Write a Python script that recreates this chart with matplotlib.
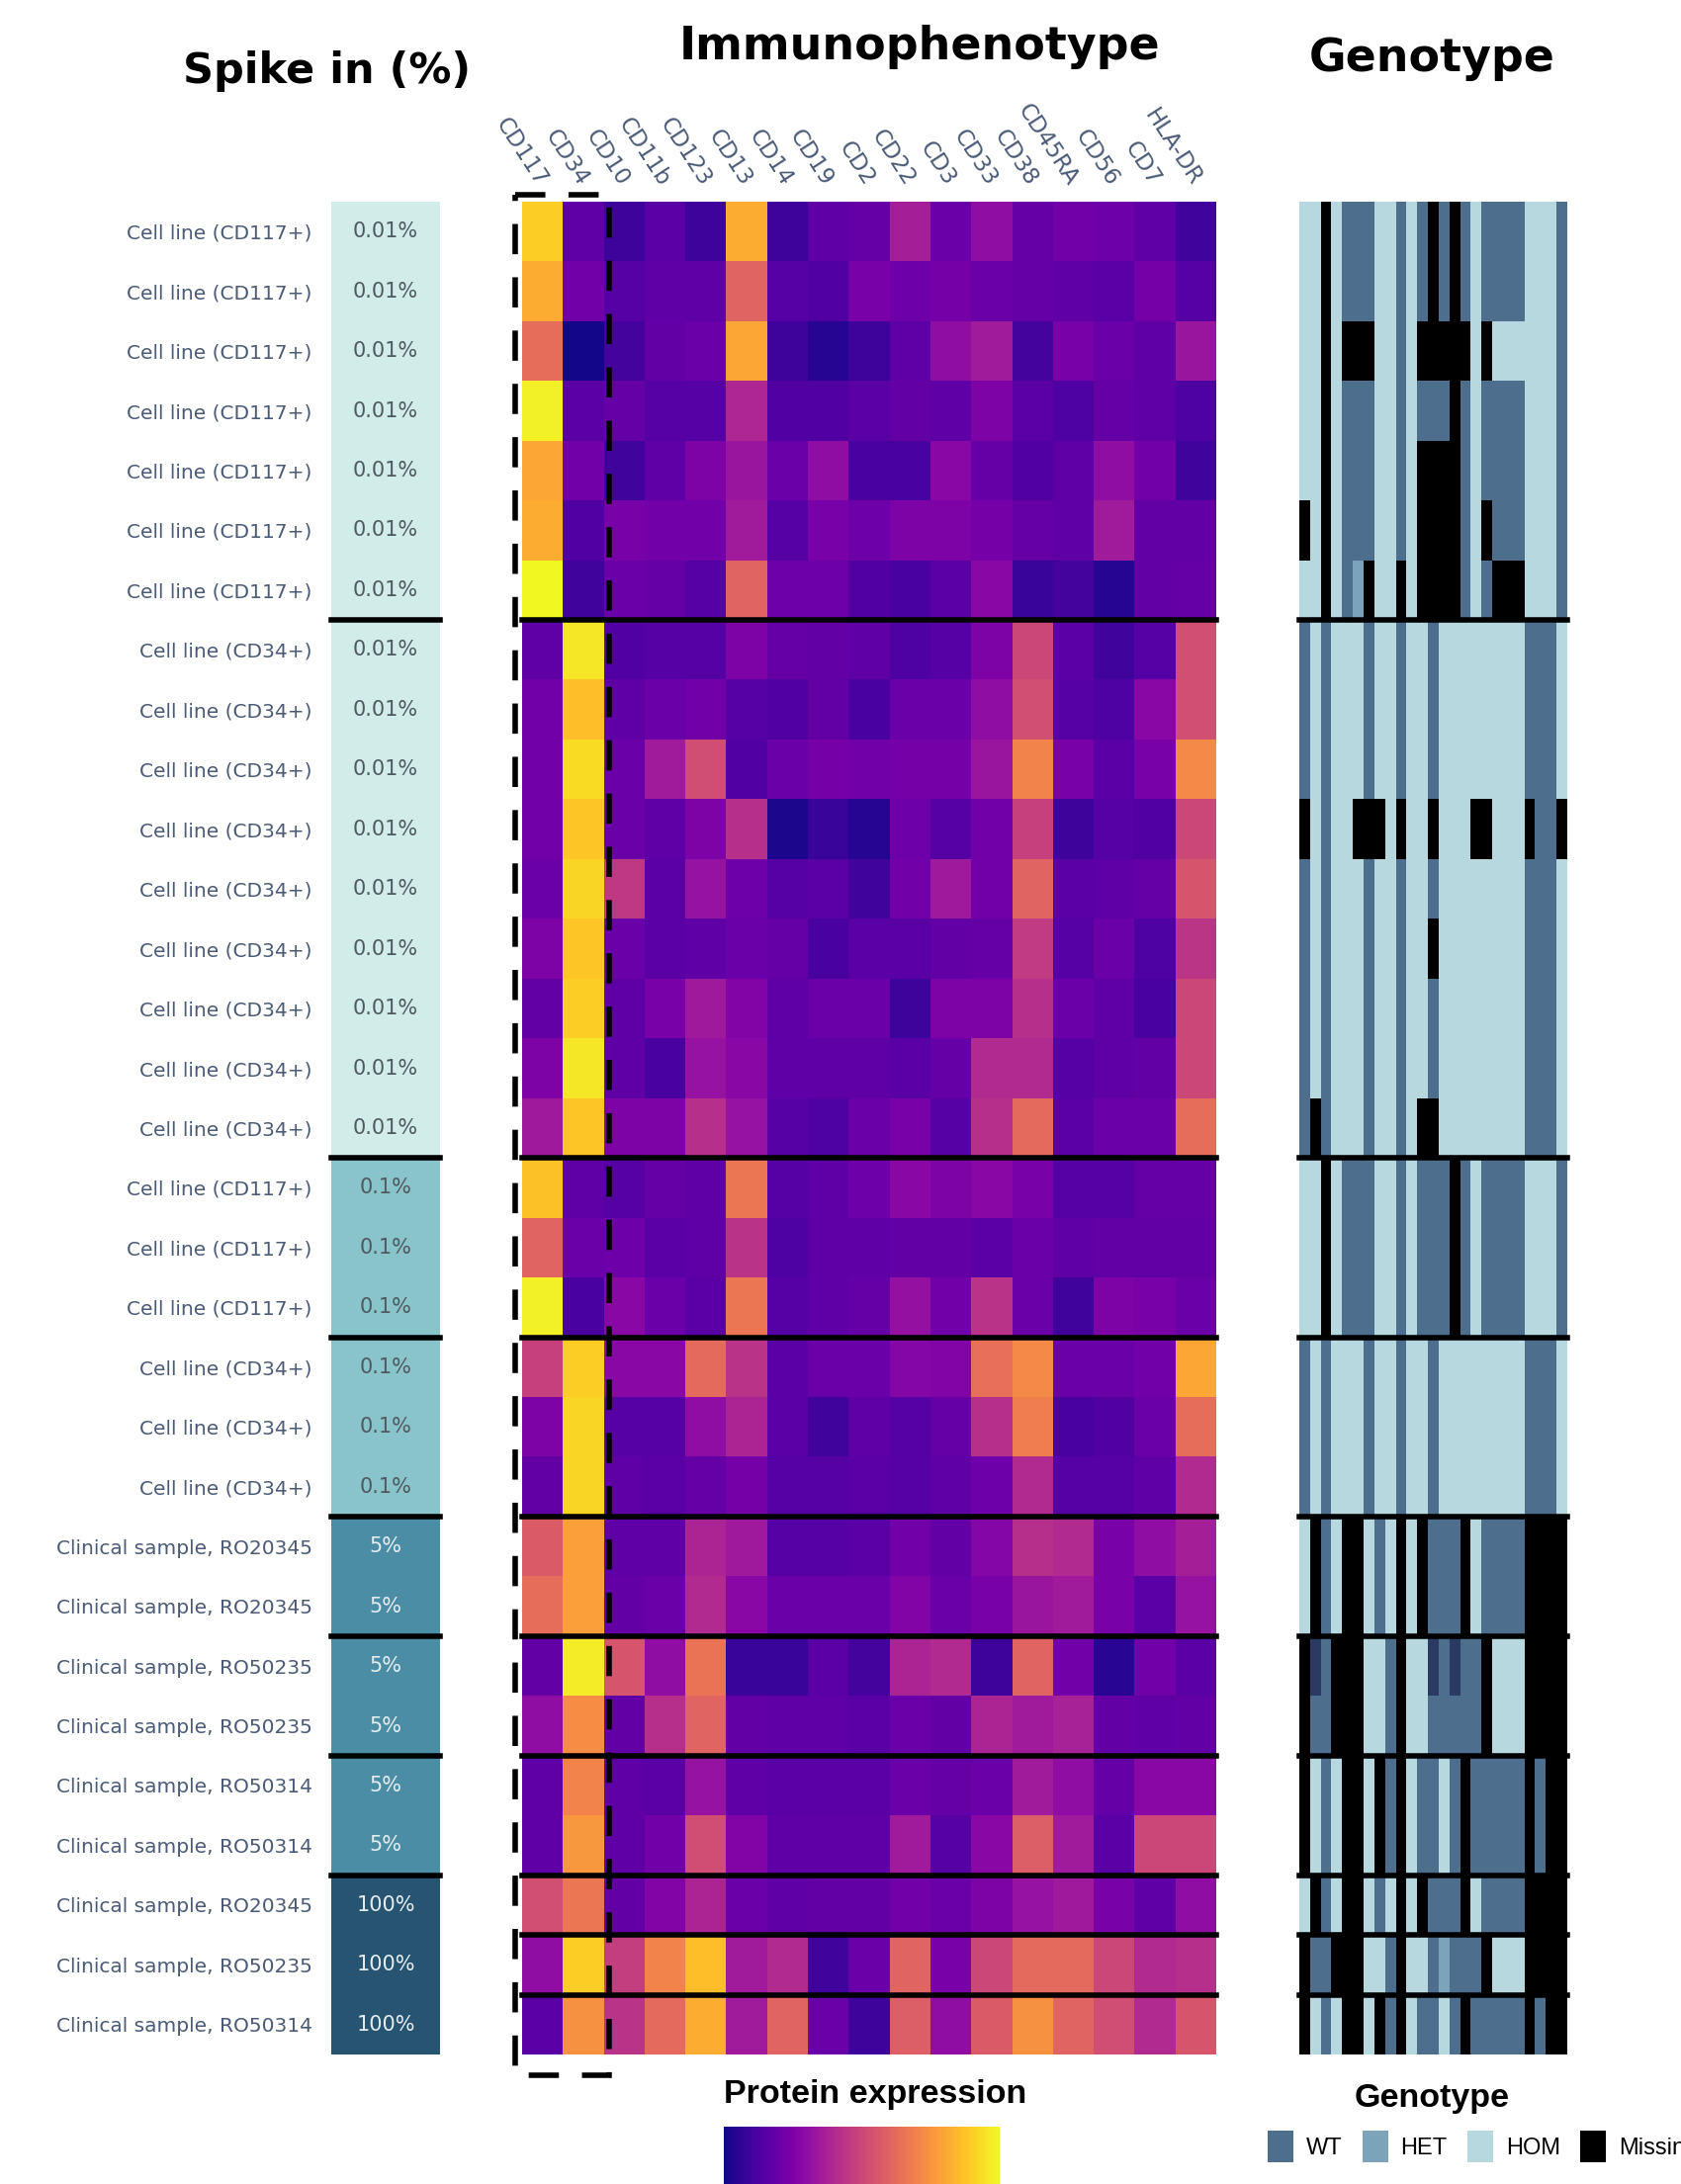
import numpy as np
import matplotlib
matplotlib.use("Agg")
import matplotlib.pyplot as plt
from matplotlib.colors import ListedColormap
from matplotlib.patches import Patch, Rectangle

# ---------------- data ----------------
markers = ["CD117", "CD34", "CD10", "CD11b", "CD123", "CD13", "CD14", "CD19", "CD2",
           "CD22", "CD3", "CD33", "CD38", "CD45RA", "CD56", "CD7", "HLA-DR"]

samples = (["Cell line (CD117+)"] * 7 + ["Cell line (CD34+)"] * 9 +
           ["Cell line (CD117+)"] * 3 + ["Cell line (CD34+)"] * 3 +
           ["Clinical sample, RO20345"] * 2 + ["Clinical sample, RO50235"] * 2 +
           ["Clinical sample, RO50314"] * 2 +
           ["Clinical sample, RO20345", "Clinical sample, RO50235", "Clinical sample, RO50314"])

spike_in = ["0.01%"] * 16 + ["0.1%"] * 6 + ["5%"] * 6 + ["100%"] * 3
spike_levels = ["0.01%", "0.1%", "5%", "100%"]

# protein expression (0 = low, 1 = high), one row per sample, columns = markers
expression = [
    [0.90, 0.17, 0.09, 0.16, 0.09, 0.82, 0.09, 0.17, 0.19, 0.36, 0.20, 0.30, 0.19, 0.22, 0.21, 0.17, 0.10],
    [0.82, 0.22, 0.15, 0.17, 0.17, 0.60, 0.15, 0.14, 0.24, 0.21, 0.23, 0.20, 0.19, 0.17, 0.16, 0.23, 0.15],
    [0.63, 0.01, 0.11, 0.18, 0.20, 0.80, 0.09, 0.04, 0.09, 0.17, 0.30, 0.35, 0.11, 0.24, 0.20, 0.17, 0.33],
    [0.98, 0.16, 0.19, 0.15, 0.15, 0.39, 0.14, 0.14, 0.16, 0.18, 0.17, 0.25, 0.16, 0.13, 0.19, 0.17, 0.13],
    [0.80, 0.22, 0.10, 0.17, 0.25, 0.33, 0.20, 0.30, 0.12, 0.12, 0.28, 0.19, 0.14, 0.17, 0.30, 0.22, 0.10],
    [0.82, 0.14, 0.24, 0.22, 0.22, 0.35, 0.15, 0.24, 0.21, 0.25, 0.25, 0.23, 0.19, 0.17, 0.35, 0.18, 0.18],
    [1.00, 0.10, 0.20, 0.19, 0.15, 0.60, 0.21, 0.21, 0.14, 0.12, 0.16, 0.28, 0.08, 0.11, 0.04, 0.18, 0.19],
    [0.17, 0.96, 0.14, 0.15, 0.15, 0.25, 0.19, 0.18, 0.17, 0.13, 0.15, 0.25, 0.50, 0.16, 0.10, 0.15, 0.53],
    [0.22, 0.86, 0.17, 0.20, 0.22, 0.15, 0.14, 0.18, 0.12, 0.20, 0.20, 0.30, 0.53, 0.15, 0.13, 0.28, 0.53],
    [0.22, 0.93, 0.20, 0.35, 0.52, 0.14, 0.20, 0.23, 0.22, 0.23, 0.23, 0.33, 0.70, 0.24, 0.16, 0.24, 0.72],
    [0.22, 0.88, 0.20, 0.17, 0.25, 0.42, 0.02, 0.08, 0.04, 0.21, 0.15, 0.22, 0.48, 0.09, 0.15, 0.14, 0.50],
    [0.20, 0.92, 0.45, 0.16, 0.32, 0.21, 0.15, 0.16, 0.10, 0.22, 0.34, 0.22, 0.60, 0.16, 0.17, 0.19, 0.55],
    [0.25, 0.88, 0.20, 0.16, 0.17, 0.20, 0.19, 0.12, 0.16, 0.16, 0.18, 0.19, 0.46, 0.15, 0.20, 0.13, 0.44],
    [0.18, 0.90, 0.17, 0.24, 0.34, 0.26, 0.17, 0.20, 0.20, 0.09, 0.25, 0.25, 0.42, 0.20, 0.17, 0.12, 0.50],
    [0.25, 0.96, 0.17, 0.12, 0.32, 0.28, 0.17, 0.17, 0.17, 0.16, 0.19, 0.40, 0.40, 0.15, 0.17, 0.18, 0.50],
    [0.34, 0.88, 0.25, 0.25, 0.42, 0.32, 0.15, 0.13, 0.20, 0.24, 0.15, 0.42, 0.62, 0.16, 0.20, 0.20, 0.63],
    [0.87, 0.17, 0.15, 0.19, 0.17, 0.66, 0.15, 0.17, 0.21, 0.28, 0.25, 0.28, 0.24, 0.15, 0.15, 0.19, 0.19],
    [0.60, 0.20, 0.21, 0.16, 0.17, 0.43, 0.13, 0.17, 0.17, 0.18, 0.18, 0.16, 0.20, 0.17, 0.18, 0.18, 0.18],
    [0.98, 0.12, 0.28, 0.20, 0.16, 0.66, 0.15, 0.17, 0.19, 0.31, 0.22, 0.43, 0.20, 0.10, 0.25, 0.24, 0.20],
    [0.48, 0.90, 0.28, 0.28, 0.62, 0.43, 0.16, 0.20, 0.20, 0.27, 0.26, 0.64, 0.72, 0.20, 0.20, 0.22, 0.80],
    [0.25, 0.92, 0.15, 0.15, 0.30, 0.38, 0.16, 0.10, 0.17, 0.15, 0.19, 0.42, 0.68, 0.12, 0.14, 0.20, 0.63],
    [0.18, 0.92, 0.17, 0.16, 0.19, 0.23, 0.15, 0.15, 0.16, 0.15, 0.17, 0.21, 0.40, 0.15, 0.15, 0.17, 0.40],
    [0.57, 0.78, 0.17, 0.17, 0.38, 0.34, 0.15, 0.15, 0.16, 0.22, 0.18, 0.27, 0.42, 0.40, 0.24, 0.30, 0.36],
    [0.63, 0.78, 0.18, 0.20, 0.40, 0.28, 0.20, 0.20, 0.20, 0.26, 0.20, 0.24, 0.33, 0.35, 0.24, 0.16, 0.32],
    [0.18, 0.97, 0.55, 0.30, 0.65, 0.08, 0.08, 0.16, 0.11, 0.38, 0.40, 0.09, 0.60, 0.22, 0.05, 0.22, 0.16],
    [0.30, 0.73, 0.18, 0.42, 0.60, 0.18, 0.17, 0.17, 0.16, 0.20, 0.18, 0.38, 0.35, 0.37, 0.18, 0.17, 0.18],
    [0.17, 0.70, 0.17, 0.16, 0.32, 0.17, 0.16, 0.16, 0.16, 0.20, 0.19, 0.20, 0.35, 0.30, 0.19, 0.28, 0.28],
    [0.17, 0.76, 0.17, 0.22, 0.52, 0.26, 0.17, 0.17, 0.17, 0.35, 0.15, 0.28, 0.58, 0.35, 0.16, 0.50, 0.50],
    [0.53, 0.66, 0.18, 0.26, 0.38, 0.20, 0.17, 0.18, 0.18, 0.22, 0.20, 0.25, 0.32, 0.34, 0.24, 0.17, 0.30],
    [0.30, 0.90, 0.47, 0.70, 0.86, 0.35, 0.40, 0.10, 0.20, 0.60, 0.24, 0.50, 0.62, 0.62, 0.50, 0.40, 0.42],
    [0.16, 0.74, 0.43, 0.62, 0.82, 0.35, 0.60, 0.20, 0.09, 0.58, 0.30, 0.57, 0.74, 0.60, 0.52, 0.40, 0.55],
]

# genotype per variant: W = WT, H = HET, O = HOM, M = Missing, N = (dark cell)
genotype = [
    "OOMOWWWOOWOWMWMWOWWWWOOOW",
    "OOMOWWWOOWOWMWMWOWWWWOOOW",
    "OOMOMMMOOWOMMMMMOMOOOOOOW",
    "OOMOWWWOOWOWWWMWOWWWWOOOW",
    "OOMOWWWOOWOMMMMWOWWWWOOOW",
    "MOMOWWWOOWOMMMMWOMWWWOOOW",
    "OOMOWHMOOMOMMMMWOWMMMOOOW",
    "WOWOOOWOOWOOWOOOOOOOOWWWO",
    "WOWOOOWOOWOOWOOOOOOOOWWWO",
    "WOWOOOWOOWOOWOOOOOOOOWWWO",
    "MOWOOMMMOMOOMOOOMMOOOMWWM",
    "WOWOOOWOOWOOWOOOOOOOOWWWO",
    "WOWOOOWOOWOOMOOOOOOOOWWWO",
    "WOWOOOWOOWOOWOOOOOOOOWWWO",
    "WOWOOOWOOWOOWOOOOOOOOWWWO",
    "WMWOOOWOOWOMMOOOOOOOOWWWO",
    "OOMOWWWOOWOWWWMWOWWWWOOOW",
    "OOMOWWWOOWOWWWMWOWWWWOOOW",
    "OOMOWWWOOWOWWWMWOWWWWOOOW",
    "WOWOOOWOOWOOWOOOOOOOOWWWO",
    "WOWOOOWOOWOOWOOOOOOOOWWWO",
    "WOWOOOWOOWOOWOOOOOOOOWWWO",
    "OMWOMMOWOMOMWWWMOWWWWMMMM",
    "OMWOMMOWOMOMWWWMOWWWWMMMM",
    "MNWMMMOOWMOONWNWWMOOOMMMM",
    "MWWMMMOOWMOOWWWWWMOOOMMMM",
    "MOWOMMOMWMOWWOWMWWWWWMWMM",
    "MOWOMMOMWMOWWOWMWWWWWMWMM",
    "OMWOMMOWOMOMWWWMOWWWWMMMM",
    "MWWMMMOOWMOOWHWWWMOOOMMMM",
    "MOWOMMOMWMOWWOWMWWWWWMWMM",
]
geno_codes = ["W", "H", "O", "M", "N"]
geno_labels = ["WT", "HET", "HOM", "Missing"]

# ---------------- style ----------------
spike_colors = ["#d2ede9", "#88c4c9", "#4b8da5", "#275470"]
spike_text_colors = ["#4f5a60", "#4f5a60", "#e4edf1", "#e4edf1"]
geno_colors = ["#4e6e8e", "#7ba3b9", "#b8d8e0", "#000000", "#2b3a62"]
label_color = "#4b5a76"

W, H = 1700, 2209
fig = plt.figure(figsize=(W / 100, H / 100), dpi=100)


def px_axes(x0, y0, x1, y1):
    return fig.add_axes([x0 / W, 1 - y1 / H, (x1 - x0) / W, (y1 - y0) / H])


def clean(ax):
    for s in ax.spines.values():
        s.set_visible(False)


n = len(samples)
expr = np.array(expression)

# group boundaries
bounds_all = [i for i in range(1, n)
              if (samples[i], spike_in[i]) != (samples[i - 1], spike_in[i - 1])]
bounds_spike = [b for b in bounds_all if not (spike_in[b] == "100%" and spike_in[b - 1] == "100%")]

# ---- spike-in column with row labels ----
axs = px_axes(335, 204, 445, 2078)
spike_idx = np.array([spike_levels.index(s) for s in spike_in])[:, None]
axs.imshow(spike_idx, cmap=ListedColormap(spike_colors), vmin=-0.5, vmax=3.5,
           aspect="auto", interpolation="nearest")
for i, s in enumerate(spike_in):
    axs.text(0, i, s, ha="center", va="center", fontsize=15,
             color=spike_text_colors[spike_levels.index(s)], family="DejaVu Sans")
axs.set_yticks(range(n))
axs.set_yticklabels(samples, fontsize=14.5, color=label_color, family="DejaVu Sans")
axs.set_xticks([])
axs.tick_params(length=0, pad=14)
clean(axs)
for b in bounds_spike:
    axs.axhline(b - 0.5, color="black", lw=4, clip_on=False)

# ---- expression heatmap ----
axh = px_axes(528, 204, 1230, 2078)
axh.imshow(expr, cmap="plasma", vmin=0, vmax=1, aspect="auto", interpolation="nearest")
axh.xaxis.tick_top()
axh.set_xticks(range(len(markers)))
axh.set_xticklabels(markers, rotation=-57, ha="right", va="center", rotation_mode="anchor",
                    fontsize=16.5, color=label_color, family="DejaVu Sans")
axh.set_yticks([])
axh.tick_params(length=0, pad=13)
clean(axh)
for b in bounds_all:
    axh.axhline(b - 0.5, color="black", lw=4, clip_on=False)
# dashed box highlighting CD117 / CD34
axh.add_patch(Rectangle((-0.67, -0.62), 2.30, n + 0.47, fill=False, edgecolor="black",
                        lw=4, linestyle=(0, (5.5, 4.2)), clip_on=False))

# ---- genotype panel ----
axg = px_axes(1314, 204, 1585, 2078)
gmat = np.array([[geno_codes.index(c) for c in row] for row in genotype])
axg.imshow(gmat, cmap=ListedColormap(geno_colors), vmin=-0.5, vmax=len(geno_codes) - 0.5,
           aspect="auto", interpolation="nearest")
axg.set_xticks([])
axg.set_yticks([])
clean(axg)
for b in bounds_all:
    axg.axhline(b - 0.5, color="black", lw=4, clip_on=False)

# ---- titles ----
tkw = dict(ha="center", va="center", fontweight="bold", family="DejaVu Sans")
fig.text(331 / W, 1 - 72 / H, "Spike in (%)", fontsize=31, **tkw)
fig.text(930 / W, 1 - 47 / H, "Immunophenotype", fontsize=33, **tkw)
fig.text(1448 / W, 1 - 60 / H, "Genotype", fontsize=33, **tkw)

# ---- legends ----
lfam = ["Liberation Sans", "DejaVu Sans"]
fig.text(885 / W, 1 - 2119 / H, "Protein expression", ha="center", va="center",
         fontsize=24.5, fontweight="bold", family=lfam)
cax = px_axes(732, 2151, 1011, 2240)
cax.imshow(np.linspace(0, 1, 256)[None, :], cmap="plasma", aspect="auto")
cax.set_axis_off()

fig.text(1448 / W, 1 - 2122 / H, "Genotype", ha="center", va="center",
         fontsize=24.5, fontweight="bold", family=lfam)
handles = [Patch(facecolor=geno_colors[i], edgecolor="none", label=lab)
           for i, lab in enumerate(geno_labels)]
fig.legend(handles=handles, loc="upper left", bbox_to_anchor=(1282 / W, 1 - 2155 / H),
           ncol=4, frameon=False, prop={"family": lfam, "size": 17},
           handlelength=1.1, handleheight=1.7, handletextpad=0.55, columnspacing=0.85,
           borderpad=0, borderaxespad=0)

fig.savefig("out.png", dpi=100)
